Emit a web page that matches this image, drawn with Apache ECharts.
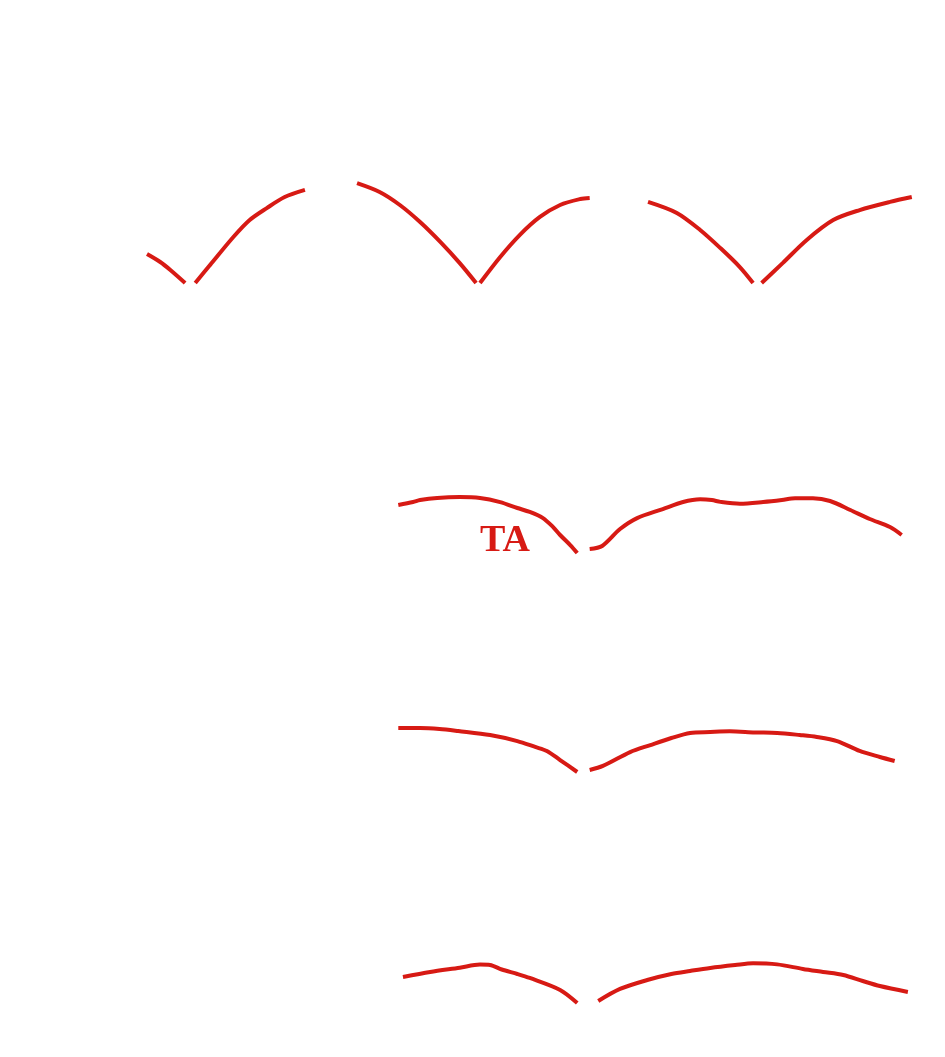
<!DOCTYPE html>
<html>
<head>
<meta charset="utf-8">
<script src="https://cdn.jsdelivr.net/npm/echarts@6/dist/echarts.min.js"></script>
<style>html,body{margin:0;padding:0;background:#ffffff;}#c{width:945px;height:1057px;}</style>
</head>
<body>
<div id="c"></div>
<script>
// ---- data: TA branch, [k-path coordinate (0..1), frequency] ----
const panelNames = ['RbSe', 'RbTe', 'CsSe', 'CsTe'];
const topLabels = [['X', 0.0], ['Y', 0.206], ['P', 0.244], ['Γ', 0.423], ['A', 0.584], ['Z', 0.621], ['M', 0.788], ['P', 1.0]];
const botLabels = [['L', 0.0], ['Γ', 0.135], ['X', 0.316], ['K', 0.391], ['Γ', 0.554], ['W', 0.751], ['Z', 0.82], ['L', 1.0]];

const ta1 = [
  [0.000, 13.1], [0.017, 9.5], [0.030, 5.9], [0.049, 0.0], null,
  [0.062, 0.0], [0.081, 8.1], [0.111, 20.8], [0.132, 28.5], [0.154, 33.9], [0.177, 38.9], [0.203, 42.1], null,
  [0.270, 45.2], [0.299, 41.2], [0.325, 35.3], [0.351, 27.6], [0.377, 18.6], [0.402, 9.0], [0.423, 0.0], null,
  [0.428, 0.0], [0.454, 11.8], [0.479, 21.7], [0.505, 29.9], [0.531, 35.3], [0.557, 38.0], [0.569, 38.5], null,
  [0.644, 36.7], [0.681, 31.7], [0.711, 24.0], [0.737, 15.8], [0.762, 7.2], [0.779, 0.0], null,
  [0.790, 0.0], [0.817, 9.0], [0.848, 19.5], [0.882, 28.5], [0.916, 33.0], [0.955, 36.7], [0.983, 38.9]
];
const ta2 = [
  [0.323, 26.7], [0.342, 28.3], [0.351, 29.4], [0.373, 30.6], [0.402, 31.1], [0.428, 30.6], [0.454, 28.3],
  [0.476, 25.0], [0.492, 22.8], [0.509, 19.4], [0.522, 14.4], [0.531, 10.0], [0.544, 4.4], [0.553, 0.0], null,
  [0.569, 2.2], [0.585, 3.9], [0.608, 13.3], [0.630, 19.4], [0.663, 24.4], [0.689, 28.3], [0.711, 29.8],
  [0.726, 29.4], [0.737, 28.4], [0.762, 27.4], [0.792, 28.3], [0.816, 29.4], [0.833, 30.4], [0.856, 30.4],
  [0.878, 28.9], [0.904, 23.9], [0.929, 18.9], [0.955, 14.4], [0.970, 10.0]
];
const ta3 = [
  [0.323, 32.0], [0.351, 32.0], [0.376, 31.3], [0.400, 29.8], [0.441, 26.9], [0.476, 22.5], [0.499, 18.2],
  [0.514, 15.3], [0.531, 8.7], [0.553, 0.0], null,
  [0.569, 1.5], [0.586, 4.4], [0.621, 14.5], [0.647, 19.6], [0.674, 24.7], [0.698, 28.4], [0.724, 29.1],
  [0.749, 29.6], [0.781, 28.8], [0.810, 28.4], [0.839, 26.9], [0.861, 25.5], [0.887, 22.5], [0.916, 15.3],
  [0.942, 10.9], [0.961, 8.0]
];
const ta4 = [
  [0.329, 23.3], [0.364, 27.8], [0.402, 31.6], [0.428, 34.4], [0.441, 34.0], [0.456, 30.0], [0.476, 26.0],
  [0.492, 22.4], [0.531, 11.7], [0.553, 0.0], null,
  [0.580, 1.8], [0.608, 12.6], [0.643, 20.6], [0.674, 26.0], [0.698, 28.7], [0.724, 31.4], [0.756, 34.0],
  [0.779, 35.6], [0.810, 34.6], [0.843, 30.5], [0.869, 27.8], [0.895, 25.1], [0.920, 19.7], [0.942, 15.2],
  [0.978, 9.9]
];
const taSeries = [ta1, ta2, ta3, ta4];
const yMax = [100, 120, 160, 240];
const yInterval = [20, 40, 40, 40];

const chart = echarts.init(document.getElementById('c'), null, {renderer: 'canvas'});
const W = '#ffffff';
const RED = '#d71a14';
const grids = [
  {left: 147, width: 778, top: 62, height: 221},
  {left: 147, width: 778, top: 337, height: 216},
  {left: 147, width: 778, top: 552, height: 220},
  {left: 147, width: 778, top: 735, height: 268}
];
const xAxes = grids.map((g, i) => {
  const labels = i === 0 ? topLabels : botLabels;
  const showLab = i === 0 || i === 3;
  return {
    type: 'value', gridIndex: i, min: 0, max: 1,
    axisLine: {show: false}, splitLine: {show: false},
    axisTick: {show: false},
    axisLabel: {
      show: showLab, color: W, fontSize: 22, fontFamily: 'Liberation Serif', margin: 16,
      customValues: labels.map(l => l[1]),
      formatter: v => { const f = labels.find(l => Math.abs(l[1] - v) < 1e-6); return f ? f[0] : ''; }
    }
  };
});
const yAxes = grids.map((g, i) => ({
  type: 'value', gridIndex: i, min: 0, max: yMax[i], interval: yInterval[i],
  axisLine: {show: false}, splitLine: {show: false}, axisTick: {show: false},
  axisLabel: {color: W, fontSize: 20, fontFamily: 'Liberation Serif', margin: 14},
  name: (i === 0 || i === 2) ? 'Frequency (cm⁻¹)' : '',
  nameLocation: 'middle', nameGap: 105, nameRotate: 90,
  nameTextStyle: {color: W, fontSize: 20, fontFamily: 'Liberation Serif'}
}));
const series = taSeries.map((d, i) => ({
  type: 'line', xAxisIndex: i, yAxisIndex: i, data: d, smooth: 0.3,
  showSymbol: false, connectNulls: false,
  lineStyle: {color: RED, width: 4}, silent: true, animation: false
}));
const labelY = [80, 360, 585, 810];
chart.setOption({
  backgroundColor: W,
  animation: false,
  grid: grids,
  xAxis: xAxes,
  yAxis: yAxes,
  series: series,
  graphic: [
    {type: 'text', left: 480, top: 522, style: {text: 'TA', fill: RED, font: 'bold 38px "Liberation Serif"'}}
  ].concat(panelNames.map((n, i) => ({
    type: 'text', left: 815, top: labelY[i] - 13, style: {text: n, fill: W, font: '26px "Liberation Serif"'}
  })))
});
</script>
</body>
</html>
